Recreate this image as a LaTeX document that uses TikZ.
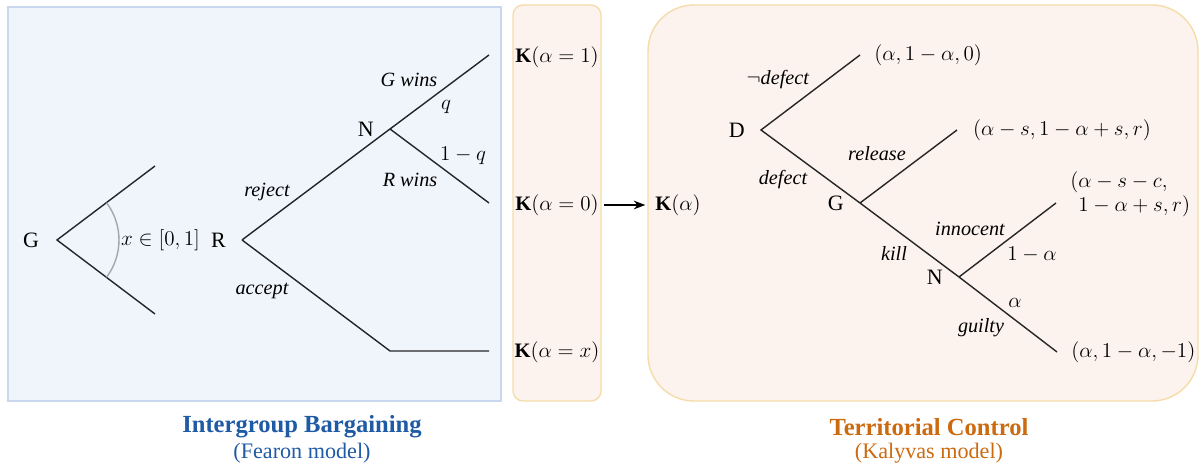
\documentclass[tikz,border=0pt]{standalone}
\usepackage{fontspec}
\setmainfont{Liberation Serif}
\usetikzlibrary{positioning,arrows.meta}

\definecolor{bargfill}{HTML}{F0F4FB}
\definecolor{bargline}{HTML}{C9D8EE}
\definecolor{bargtext}{HTML}{1F5AA5}
\definecolor{ctrlfill}{HTML}{FCF3EE}
\definecolor{ctrlline}{HTML}{F5DCAA}
\definecolor{ctrltext}{HTML}{CC6A10}

\begin{document}
\begin{tikzpicture}[
    x=0.02cm, y=0.02cm,
    every node/.style={font=\fontsize{11.7}{14}\selectfont, inner sep=1pt},
    player/.style={font=\fontsize{12.5}{14}\selectfont},
    branch/.style={draw=black!85, line width=0.8pt},
    act/.style={font=\fontsize{11.5}{14}\selectfont\itshape},
    ttl/.style={font=\fontsize{14}{16}\selectfont\bfseries},
    subttl/.style={font=\fontsize{12.6}{14}\selectfont},
    panel/.style={line width=0.8pt},
    >=Stealth
  ]
  \useasboundingbox (0,0) rectangle (1200,469);

  % panels
  \draw[panel, draw=bargline, fill=bargfill] (8,68) rectangle (501,462);
  \draw[panel, draw=ctrlline, fill=ctrlfill, rounded corners=0.2cm] (513,68) rectangle (601,464);
  \draw[panel, draw=ctrlline, fill=ctrlfill, rounded corners=0.92cm] (648,68) rectangle (1198,464);

  % Fearon: offer
  \coordinate (g0) at (57,229);
  \coordinate (gU) at (155,303);
  \coordinate (gL) at (155,155);
  \node[player] (G) [left=9pt of g0] {G};
  \draw[branch] (gU) -- (g0) -- (gL);
  \draw[gray!70, line width=0.8pt] (g0) ++(-37:1.24cm) arc[start angle=-37, end angle=37, radius=1.24cm];
  \node (x) [anchor=west] at (119,229) {$x\in[0,1]$};

  % Fearon: response and war
  \coordinate (r0) at (242,229);
  \coordinate (n0) at (390,340);
  \coordinate (nU) at (489,414);
  \coordinate (nL) at (489,266);
  \coordinate (a1) at (390,118);
  \coordinate (a2) at (489,118);
  \node[player] (R) [left=8pt of r0] {R};
  \node[player] (N) [left=8pt of n0] {N};
  \draw[branch] (r0) -- (n0) -- (nU);
  \draw[branch] (n0) -- (nL);
  \draw[branch] (r0) -- (a1) -- (a2);
  \node[act] (gwins) at (409,389) {G wins};
  \node (q) at (446,362) {$q$};
  \node (oneq) at (463,313) {$1-q$};
  \node[act] (rwins) at (410,289) {R wins};
  \node[act] (reject) at (267,277) {reject};
  \node[act] (accept) at (262,178) {accept};

  \node[ttl, text=bargtext] (bargT) at (302,42) {Intergroup Bargaining};
  \node[subttl, text=bargtext] (bargS) at (302,16) {(Fearon model)};

  % outcomes
  \node (K1) at (557,412) {$\mathbf{K}(\alpha=1)$};
  \node (K0) at (557,264) {$\mathbf{K}(\alpha=0)$};
  \node (Kx) at (557,117) {$\mathbf{K}(\alpha=x)$};
  \node (Ka) at (678,264) {$\mathbf{K}(\alpha)$};
  \draw[->, line width=0.8pt, shorten <=2pt, shorten >=4.5pt] (K0) -- (Ka);

  % Kalyvas game
  \coordinate (d0) at (761,339);
  \coordinate (dU) at (860,414);
  \coordinate (g1) at (860,266);
  \coordinate (gU1) at (957,339);
  \coordinate (n1) at (959,192);
  \coordinate (nU1) at (1056,266);
  \coordinate (nL1) at (1057,117);
  \node[player] (D) [left=8pt of d0] {D};
  \node[player] (G1) [left=8pt of g1] {G};
  \node[player] (N1) [left=8pt of n1] {N};
  \draw[branch] (dU) -- (d0) -- (g1) -- (n1) -- (nL1);
  \draw[branch] (g1) -- (gU1);
  \draw[branch] (n1) -- (nU1);

  \node (p1) [right=7pt of dU] {$(\alpha,1-\alpha,0)$};
  \node (p2) [right=8pt of gU1] {$(\alpha-s,1-\alpha+s,r)$};
  \node (p3) [right=7pt of nU1, yshift=5pt, align=left] {$(\alpha-s-c,$\\$\phantom{(}1-\alpha+s,r)$};
  \node (p4) [right=7pt of nL1] {$(\alpha,1-\alpha,-1)$};

  \node[font=\fontsize{11.5}{14}\selectfont] (nodef) at (778,389) {$\neg$\textit{defect}};
  \node[act] (def) at (783,289) {defect};
  \node[act] (rel) at (877,315) {release};
  \node[act] (kill) at (894,216) {kill};
  \node[act] (inno) at (970,240) {innocent};
  \node (pinno) at (1032,214) {$1-\alpha$};
  \node (pguil) at (1015,166) {$\alpha$};
  \node[act] (guil) at (981,141) {guilty};

  \node[ttl, text=ctrltext] (ctrlT) at (929,42) {Territorial Control};
  \node[subttl, text=ctrltext] (ctrlS) at (929,16) {(Kalyvas model)};
\end{tikzpicture}
\end{document}
